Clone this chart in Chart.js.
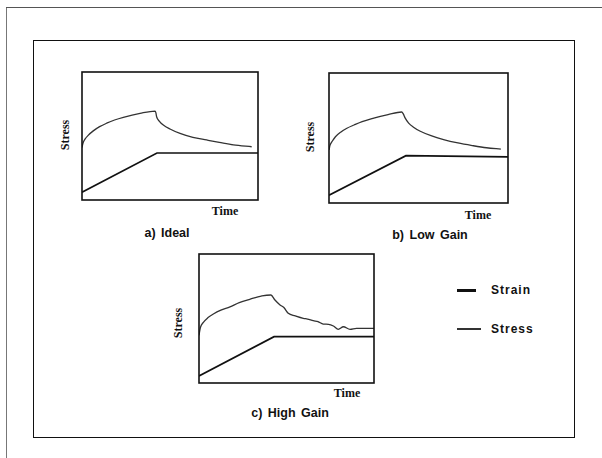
<!DOCTYPE html>
<html>
<head>
<meta charset="utf-8">
<script src="https://cdn.jsdelivr.net/npm/chart.js@4/dist/chart.umd.min.js"></script>
<style>
  body { margin: 0; background: #fff; }
  #page { position: relative; width: 602px; height: 458px; overflow: hidden; background: #fff; }
  .abs { position: absolute; }
  .axis { font: bold 12px "Liberation Serif", serif; color: #111; white-space: nowrap; }
  .cap { font: bold 12.5px "Liberation Sans", sans-serif; color: #111; white-space: nowrap; word-spacing: 2px; }
  .leg { font: bold 12px "Liberation Sans", sans-serif; color: #111; letter-spacing: 1px; white-space: nowrap; }
  canvas { position: absolute; }
</style>
</head>
<body>
<div id="page">
  <div class="abs" style="left:6px;top:7px;width:1px;height:451px;background:#777"></div>
  <div class="abs" style="left:6px;top:7px;width:596px;height:1px;background:#555"></div>
  <div class="abs" style="left:33px;top:40px;width:540px;height:396px;border:1.5px solid #111"></div>

  <canvas id="chartA" width="180" height="132" style="left:80px;top:70px"></canvas>
  <canvas id="chartB" width="183" height="134" style="left:327px;top:71px"></canvas>
  <canvas id="chartC" width="179" height="133" style="left:197px;top:252px"></canvas>

  <div class="abs axis" style="left:65px;top:135px;transform:translate(-50%,-50%) rotate(-90deg)">Stress</div>
  <div class="abs axis" style="left:310px;top:137px;transform:translate(-50%,-50%) rotate(-90deg)">Stress</div>
  <div class="abs axis" style="left:178px;top:323px;transform:translate(-50%,-50%) rotate(-90deg)">Stress</div>

  <div class="abs axis" style="left:225px;top:211px;transform:translate(-50%,-50%)">Time</div>
  <div class="abs axis" style="left:478px;top:215px;transform:translate(-50%,-50%)">Time</div>
  <div class="abs axis" style="left:347px;top:393px;transform:translate(-50%,-50%)">Time</div>

  <div class="abs cap" style="left:167px;top:233px;transform:translate(-50%,-50%)">a) Ideal</div>
  <div class="abs cap" style="left:430px;top:235px;transform:translate(-50%,-50%)">b) Low Gain</div>
  <div class="abs cap" style="left:290px;top:413px;transform:translate(-50%,-50%)">c) High Gain</div>

  <div class="abs" style="left:457px;top:289px;width:19px;height:2.5px;background:#111"></div>
  <div class="abs leg" style="left:491px;top:290px;transform:translateY(-50%)">Strain</div>
  <div class="abs" style="left:457px;top:328px;width:24px;height:1.5px;background:#333"></div>
  <div class="abs leg" style="left:491px;top:329px;transform:translateY(-50%)">Stress</div>
</div>

<script>
// a) ideal
const idealTime = [0, 0.6, 1.7, 3.5, 6.4, 10, 14, 18.5, 23.5, 33, 41.5, 42, 42.4, 44, 46.2, 50, 55.7, 63, 70.8, 78, 86, 96.4];
const idealStress = [41, 44.5, 47.5, 50.5, 54, 57.3, 60, 62.5, 64.6, 67.7, 69.5, 68, 65, 61.5, 58.6, 55.5, 52, 49, 46.9, 45, 43, 41.6];
const idealStrainTime = [0, 42.6, 100];
const idealStrain = [6, 36.7, 36.7];

// b) low gain
const lowTime = [0, 0.6, 1.8, 3.6, 6.5, 10, 14, 18.5, 23.5, 33, 40.6, 41.5, 42.5, 44.5, 47, 51, 57, 64, 72, 80, 88, 96];
const lowStress = [40.8, 44.5, 47.5, 51, 54.5, 57.5, 60, 62.6, 64.8, 68, 70, 68.5, 65.5, 61.5, 58.5, 55.2, 51.8, 48.8, 46.2, 44.2, 42.5, 41.5];
const lowStrainTime = [0, 43, 100];
const lowStrain = [6, 36.4, 35.5];

// c) high gain
const highTime = [0, 0.8, 2.5, 5, 8.2, 12.5, 17.7, 23, 29, 36, 41.1, 43.4, 46.3, 48.5, 51, 55, 59.6, 62, 65.3, 68, 71, 74, 76.8, 79.6, 82.5, 86.3, 90, 100];
const highStress = [37, 43, 47, 50.5, 53.5, 56.5, 59, 62.3, 64.9, 67.5, 68.2, 64.3, 60.5, 58.5, 54, 52, 50.1, 49.6, 48.3, 47.6, 45.7, 45.5, 44.2, 41.6, 43.6, 41.6, 42.4, 42.4];
const highStrainTime = [0, 42.9, 100];
const highStrain = [5.4, 35.9, 35.9];

const pts = (xs, ys) => xs.map((x, i) => ({ x: x, y: ys[i] }));

const frame = {
  id: "frame",
  afterDraw(chart) {
    const a = chart.chartArea;
    const c = chart.ctx;
    c.save();
    c.strokeStyle = "#111";
    c.lineWidth = 1.6;
    c.strokeRect(a.left, a.top, a.right - a.left, a.bottom - a.top);
    c.restore();
  },
};

function panel(id, time, stress, strainTime, strain) {
  new Chart(document.getElementById(id), {
    type: "line",
    data: {
      datasets: [
        {
          label: "Strain",
          data: pts(strainTime, strain),
          borderColor: "#111",
          borderWidth: 1.7,
          pointRadius: 0,
          tension: 0,
        },
        {
          label: "Stress",
          data: pts(time, stress),
          borderColor: "#333",
          borderWidth: 1.3,
          pointRadius: 0,
          cubicInterpolationMode: "monotone",
        },
      ],
    },
    options: {
      responsive: false,
      animation: false,
      layout: { padding: 2 },
      plugins: { legend: { display: false }, tooltip: { enabled: false } },
      scales: {
        x: { type: "linear", min: 0, max: 100, display: false },
        y: { min: 0, max: 100, display: false },
      },
    },
    plugins: [frame],
  });
}

panel("chartA", idealTime, idealStress, idealStrainTime, idealStrain);
panel("chartB", lowTime, lowStress, lowStrainTime, lowStrain);
panel("chartC", highTime, highStress, highStrainTime, highStrain);
</script>
</body>
</html>
